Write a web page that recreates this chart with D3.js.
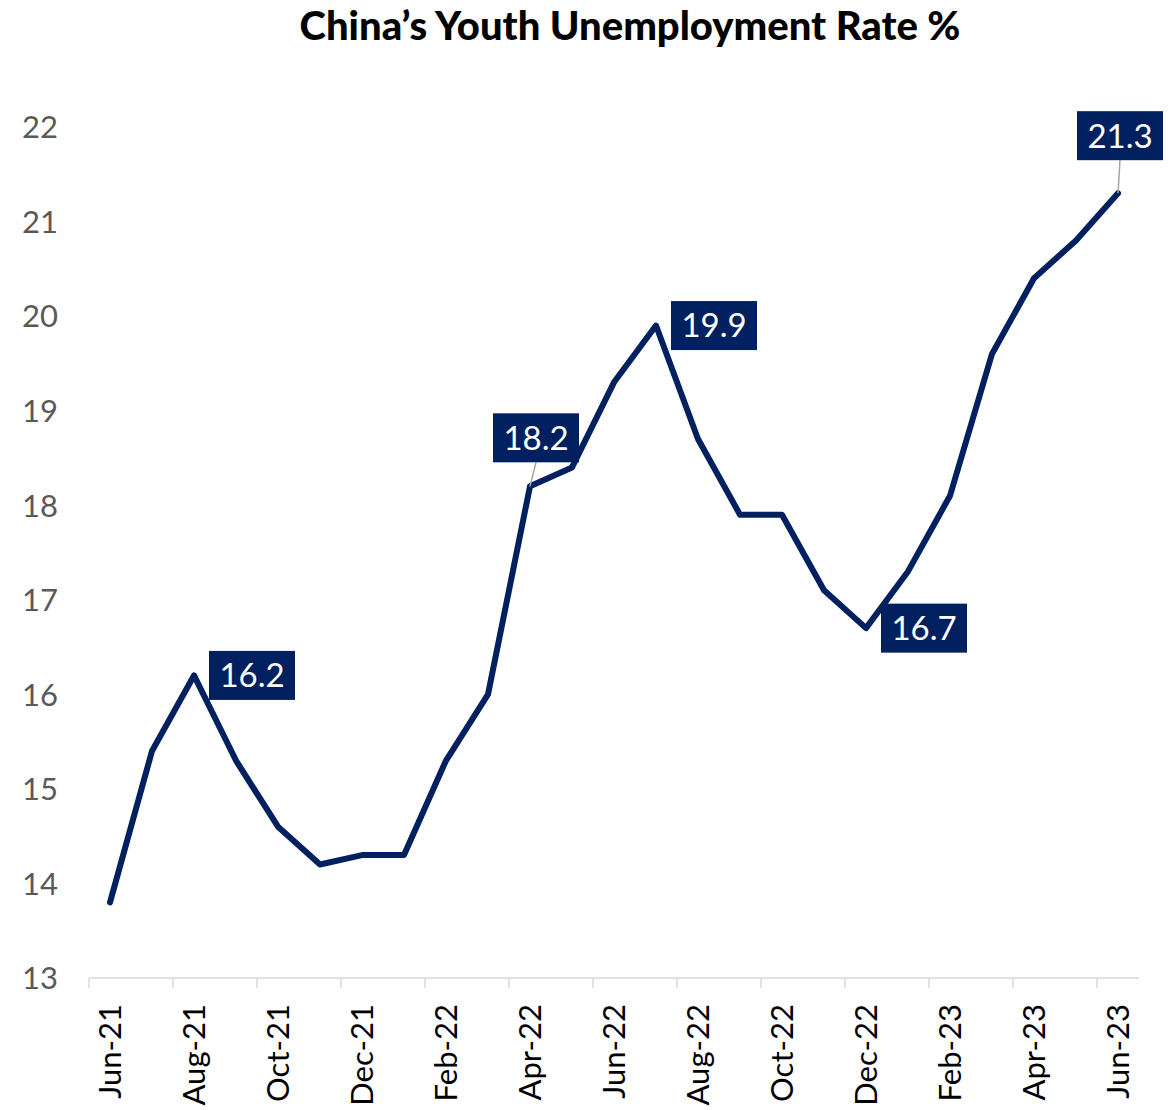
<!DOCTYPE html>
<html><head><meta charset="utf-8">
<script src="https://cdn.jsdelivr.net/npm/d3@7"></script>
<style>
html,body{margin:0;padding:0;background:#fff;}
svg{display:block;}
</style>
</head><body>
<div id="chart"></div>
<script>
const months = ["Jun-21","Jul-21","Aug-21","Sep-21","Oct-21","Nov-21","Dec-21","Jan-22","Feb-22","Mar-22","Apr-22","May-22","Jun-22","Jul-22","Aug-22","Sep-22","Oct-22","Nov-22","Dec-22","Jan-23","Feb-23","Mar-23","Apr-23","May-23","Jun-23"];
const rates = [13.8,15.4,16.2,15.3,14.6,14.2,14.3,14.3,15.3,16.0,18.2,18.4,19.3,19.9,18.7,17.9,17.9,17.1,16.7,17.3,18.1,19.6,20.4,20.8,21.3];
const yTicks = [13,14,15,16,17,18,19,20,21,22];
const labelledMonths = ["Aug-21","Apr-22","Jul-22","Dec-22","Jun-23"];
const labelPlacement = ["right","above","right","right","above"];
const title = "China\u2019s Youth Unemployment Rate %";

const W = 1175, H = 1110;
const NAVY = "#002060";
const FONT = "Lato, 'Noto Sans', sans-serif";

const svg = d3.select("#chart").append("svg").attr("width", W).attr("height", H);

const x = d3.scaleBand().domain(months).range([89, 1139]).padding(0);
const y = d3.scaleLinear().domain([13, 22]).range([978, 127]);
const cx = d => x(d) + x.bandwidth() / 2;

// title
svg.append("text")
  .attr("x", 630).attr("y", 40)
  .attr("text-anchor", "middle")
  .attr("font-family", FONT)
  .attr("font-weight", 900)
  .attr("font-size", 40)
  .attr("fill", "#000")
  .text(title);

// y axis labels
const yAxis = d3.axisLeft(y).tickValues(yTicks).tickSize(0).tickPadding(0).tickFormat(d3.format("d"));
const gy = svg.append("g").attr("transform", "translate(58,0)").call(yAxis);
gy.select(".domain").remove();
gy.selectAll("text")
  .attr("font-family", FONT).attr("font-size", 31).attr("fill", "#595959")
  .attr("dy", "0.35em");

// x axis
const xTickMonths = months.filter((d, i) => i % 2 === 0);
const gx = svg.append("g").attr("transform", "translate(0,978)");
gx.append("line").attr("x1", x.range()[0]).attr("x2", x.range()[1])
  .attr("stroke", "#d9d9d9").attr("stroke-width", 1.5);
gx.selectAll("line.tick").data(xTickMonths).join("line")
  .attr("class", "tick")
  .attr("x1", d => x(d)).attr("x2", d => x(d))
  .attr("y1", 0).attr("y2", 10)
  .attr("stroke", "#d9d9d9").attr("stroke-width", 1.5);
gx.selectAll("text").data(xTickMonths).join("text")
  .attr("transform", d => `translate(${cx(d)},26) rotate(-90)`)
  .attr("text-anchor", "end")
  .attr("dy", "0.35em")
  .attr("font-family", FONT).attr("font-size", 31).attr("fill", "#000")
  .text(d => d);

// line
const data = months.map((m, i) => ({ m, v: rates[i] }));
const line = d3.line().x(d => cx(d.m)).y(d => y(d.v));
svg.append("path").datum(data)
  .attr("d", line)
  .attr("fill", "none")
  .attr("stroke", NAVY)
  .attr("stroke-width", 6)
  .attr("stroke-linejoin", "round")
  .attr("stroke-linecap", "round");

// data labels
const BW = 86, BH = 49;
labelledMonths.forEach((m, k) => {
  const i = months.indexOf(m);
  const px = cx(m), py = y(rates[i]);
  let bx, by;
  if (labelPlacement[k] === "right") {
    bx = px + 15; by = py - BH / 2;
  } else {
    bx = px - BW / 2 + (i === months.length - 1 ? 2 : 6);
    by = py - BH - (i === months.length - 1 ? 33 : 24);
    svg.append("line")
      .attr("x1", bx + BW / 2).attr("y1", by + BH)
      .attr("x2", px).attr("y2", py)
      .attr("stroke", "#a6a6a6").attr("stroke-width", 1.5);
  }
  const g = svg.append("g");
  g.append("rect").attr("x", bx).attr("y", by).attr("width", BW).attr("height", BH).attr("fill", NAVY);
  g.append("text")
    .attr("x", bx + BW / 2).attr("y", by + BH / 2)
    .attr("dy", "0.36em")
    .attr("text-anchor", "middle")
    .attr("font-family", FONT).attr("font-size", 33).attr("fill", "#fff")
    .text(d3.format(".1f")(rates[i]));
});
</script>
</body></html>
